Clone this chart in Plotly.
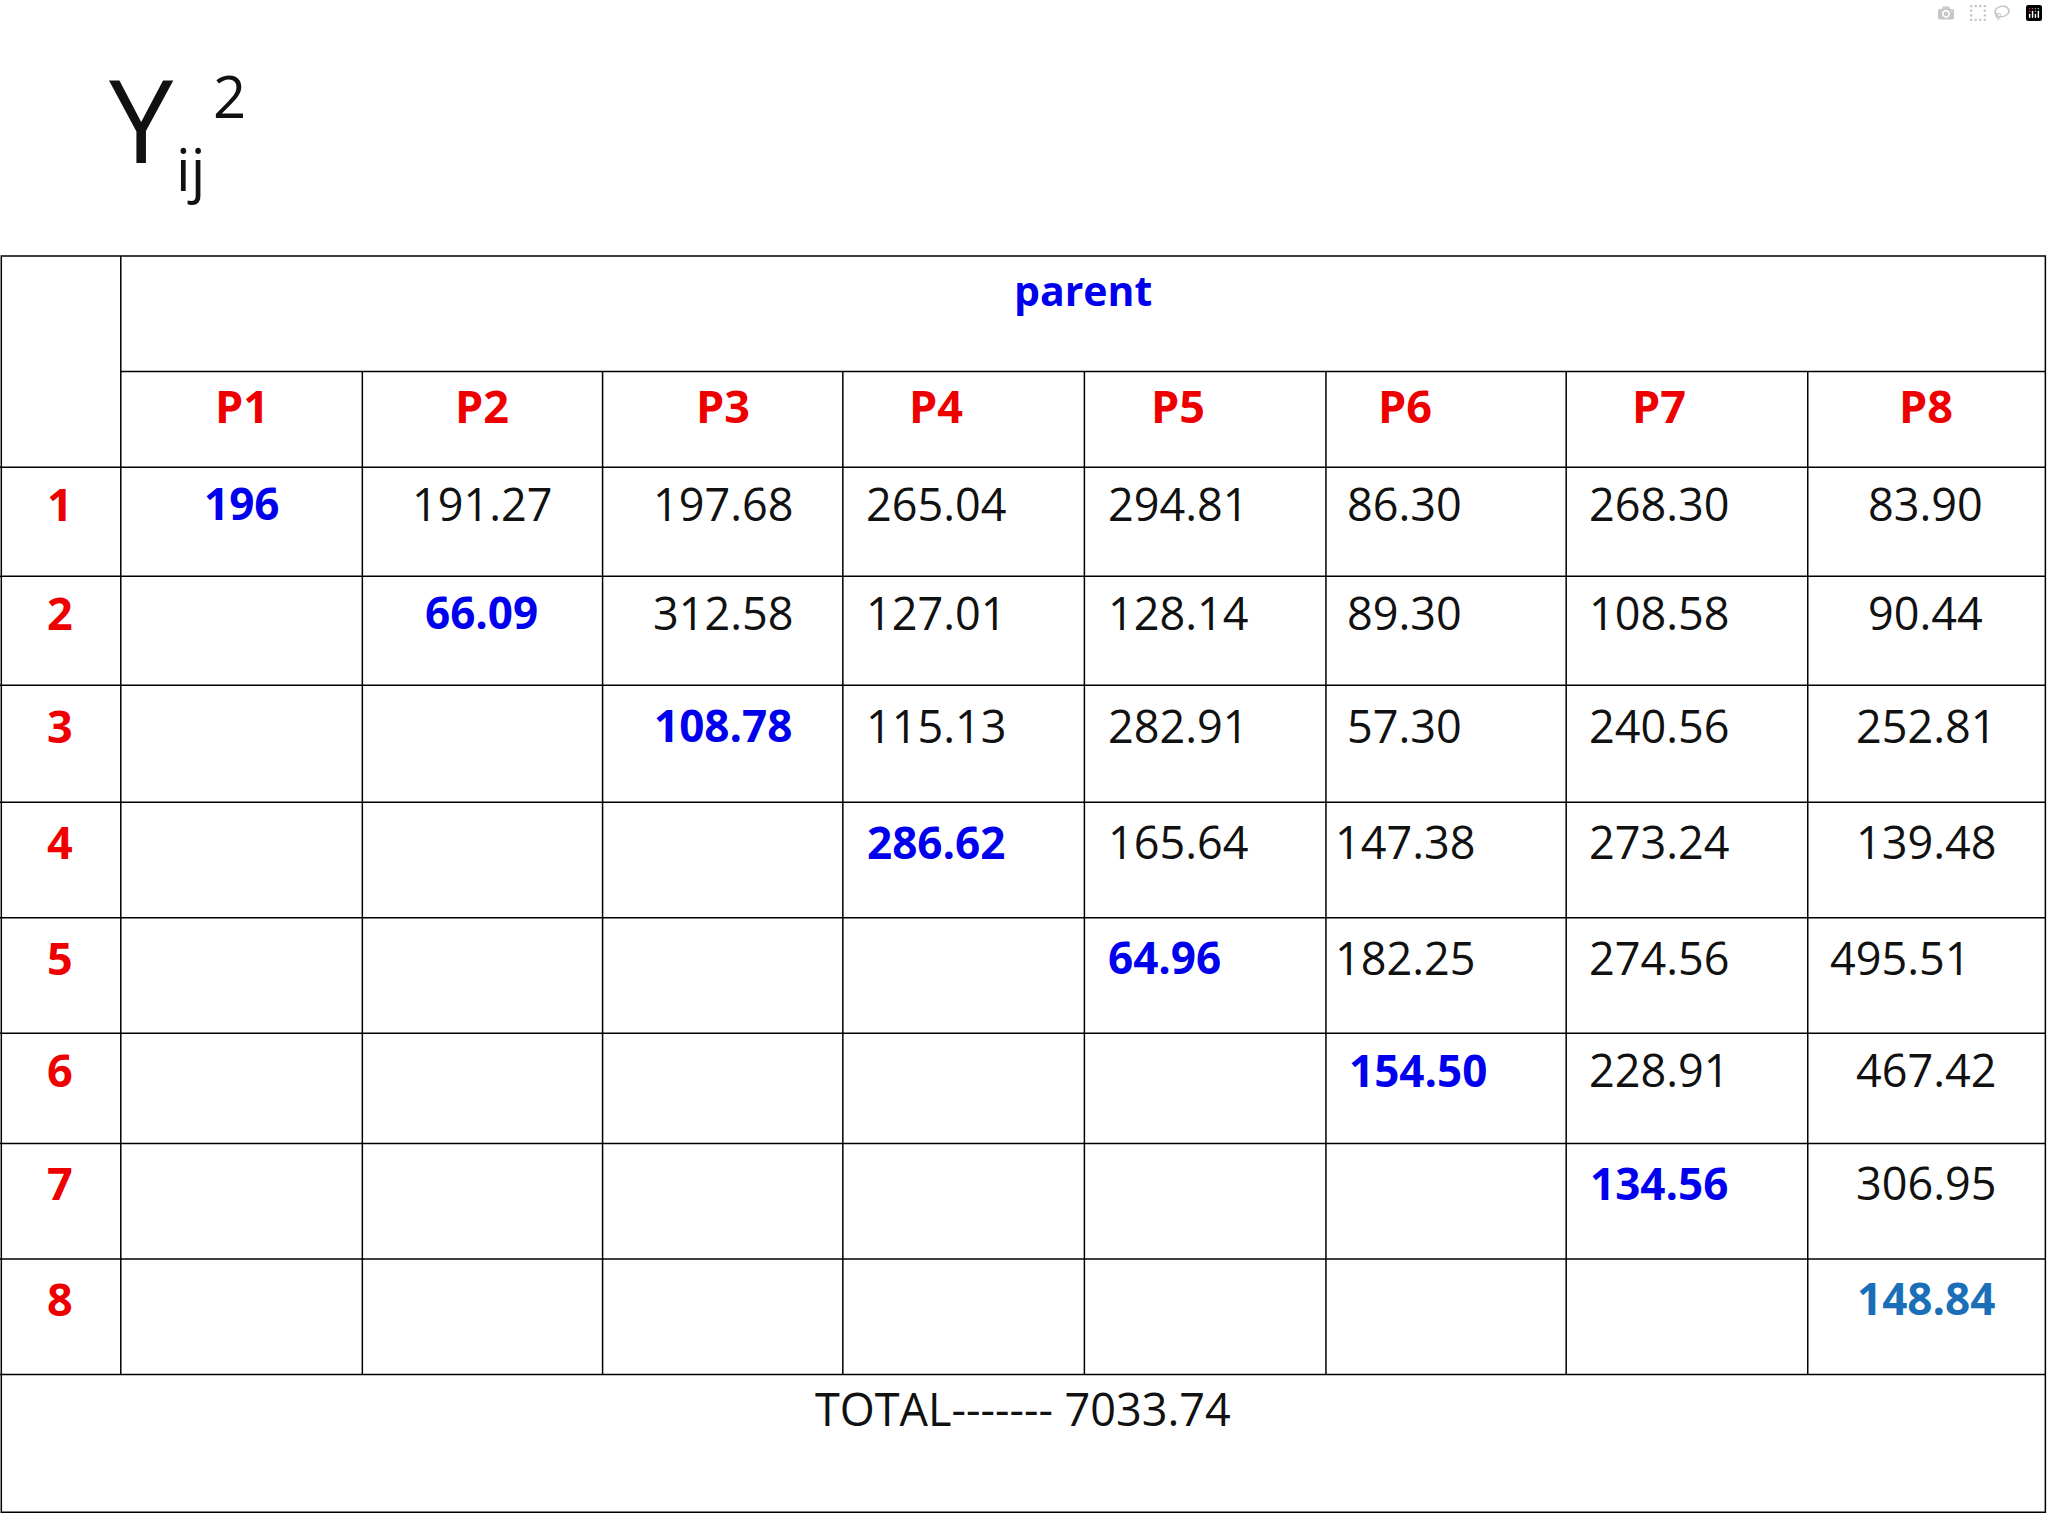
import plotly.graph_objects as go

cols = ["P1", "P2", "P3", "P4", "P5", "P6", "P7", "P8"]
rows = ["1", "2", "3", "4", "5", "6", "7", "8"]
values = [
    ["196", "191.27", "197.68", "265.04", "294.81", "86.30", "268.30", "83.90"],
    ["", "66.09", "312.58", "127.01", "128.14", "89.30", "108.58", "90.44"],
    ["", "", "108.78", "115.13", "282.91", "57.30", "240.56", "252.81"],
    ["", "", "", "286.62", "165.64", "147.38", "273.24", "139.48"],
    ["", "", "", "", "64.96", "182.25", "274.56", "495.51"],
    ["", "", "", "", "", "154.50", "228.91", "467.42"],
    ["", "", "", "", "", "", "134.56", "306.95"],
    ["", "", "", "", "", "", "", "148.84"],
]
total_label = "TOTAL------- 7033.74"

# layout (display coordinates)
xb = [0, 92, 276, 459, 642, 826, 1010, 1193, 1377, 1558]
yb = [195, 283, 356, 439, 522, 611, 699, 787, 871, 959, 1047, 1152]
xc = [184, 367, 551, 713, 897, 1070, 1264, 1467]
xc_diag = [184, 367, 551, 713, 887, 1080, 1264, 1467]

FONT = "Open Sans"
fig = go.Figure()
shapes = []
L = dict(color="black", width=1.5)
shapes.append(dict(type="rect", x0=1, x1=1558, y0=195, y1=1152, line=L))
shapes.append(dict(type="line", x0=92, x1=1558, y0=283, y1=283, line=L))
for y in yb[2:-1]:
    shapes.append(dict(type="line", x0=0, x1=1558, y0=y, y1=y, line=L))
shapes.append(dict(type="line", x0=92, x1=92, y0=195, y1=1047, line=L))
for x in xb[2:-1]:
    shapes.append(dict(type="line", x0=x, x1=x, y0=283, y1=1047, line=L))

ann = []
ann.append(dict(x=825, y=221, text="<b>parent</b>", font=dict(color="#0000ee", size=41, family=FONT)))
for j, c in enumerate(cols):
    ann.append(dict(x=xc[j], y=309, text="<b>%s</b>" % c, font=dict(color="#ee0000", size=45, family=FONT)))
for i, r in enumerate(rows):
    yc = (yb[i + 2] + yb[i + 3]) / 2 - 14
    ann.append(dict(x=46, y=yc, text="<b>%s</b>" % r, font=dict(color="#ee0000", size=45, family=FONT)))
    for j, v in enumerate(values[i]):
        if not v:
            continue
        if i == j:
            col = "#1a6fb8" if i == 7 else "#0000ee"
            ann.append(dict(x=xc_diag[j], y=yc, text="<b>%s</b>" % v, font=dict(color=col, size=44, family=FONT)))
        else:
            xx = 1447 if (i == 4 and j == 7) else xc[j]
            ann.append(dict(x=xx, y=yc, text=v, font=dict(color="#111", size=45, family=FONT)))
ann.append(dict(x=779, y=1073, text=total_label, font=dict(color="#111", size=45, family=FONT)))
ann.append(dict(x=108, y=90, text="Y", font=dict(color="#111", size=115, family=FONT)))
ann.append(dict(x=145, y=128, text="ij", font=dict(color="#111", size=58, family=FONT)))
ann.append(dict(x=175, y=73, text="2", font=dict(color="#111", size=58, family=FONT)))
for a in ann:
    a.update(xref="x", yref="y", showarrow=False)

fig.add_trace(go.Scatter(x=[0], y=[0], mode="markers", marker=dict(opacity=0), hoverinfo="skip"))
fig.update_layout(
    width=2048, height=1536, margin=dict(l=0, r=0, t=0, b=0),
    plot_bgcolor="white", paper_bgcolor="white", showlegend=False,
    shapes=shapes, annotations=ann,
    xaxis=dict(range=[0, 1560], visible=False, fixedrange=True),
    yaxis=dict(range=[1170, 0], visible=False, fixedrange=True),
)
fig.write_html("out.html", post_script="document.body.style.margin='0';document.body.style.overflow='hidden';")
